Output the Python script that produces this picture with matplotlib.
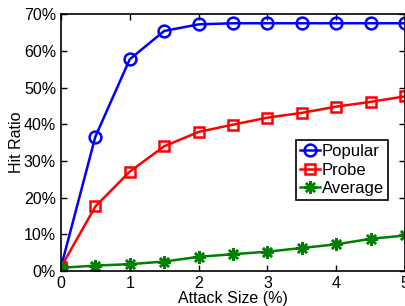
import numpy as np
import matplotlib.pyplot as plt
from matplotlib.ticker import FuncFormatter

plt.rcParams['font.family'] = ['Liberation Sans', 'DejaVu Sans']

attack_size = [0, 0.5, 1, 1.5, 2, 2.5, 3, 3.5, 4, 4.5, 5]
popular = [1.0, 36.6, 57.7, 65.4, 67.2, 67.5, 67.5, 67.5, 67.5, 67.5, 67.5]
probe = [1.0, 17.6, 27.1, 34.0, 37.9, 39.9, 41.8, 43.1, 44.8, 46.1, 47.6]
average = [0.9, 1.5, 1.9, 2.6, 3.9, 4.6, 5.3, 6.3, 7.3, 8.8, 9.7]

fig = plt.figure(figsize=(4.06, 3.06), dpi=100)
ax = fig.add_axes([0.150, 0.114, 0.848, 0.840])

ax.plot(attack_size, popular, '-o', color='blue', lw=1.8, ms=8.5, mfc='none', mew=1.8, label='Popular')
ax.plot(attack_size, probe, '-s', color='red', lw=1.8, ms=7.5, mfc='none', mew=1.8, label='Probe')
ax.plot(attack_size, average, '-', marker=(8, 2, 0), color=(0, 0.5, 0), lw=1.8, ms=9, mew=1.8, label='Average')

ax.set_xlim(0, 5)
ax.set_ylim(0, 70)
ax.set_xticks(range(6))
ax.set_yticks(range(0, 71, 10))
ax.yaxis.set_major_formatter(FuncFormatter(lambda v, p: '%d%%' % v))
ax.tick_params(direction='in', top=True, right=True, labelsize=11.5, length=4, width=1)
for s in ax.spines.values():
    s.set_linewidth(1.2)

ax.set_xlabel('Attack Size (%)', fontsize=11.5, labelpad=0)
ax.set_ylabel('Hit Ratio', fontsize=11.5, labelpad=0)

leg = ax.legend(loc='upper right', bbox_to_anchor=(0.951, 0.51), fontsize=12,
                fancybox=False, framealpha=1, edgecolor='black',
                handlelength=1.2, handletextpad=0.1, borderpad=0.25,
                labelspacing=0.2, borderaxespad=0)
leg.get_frame().set_linewidth(1.2)

fig.savefig('out.png', dpi=100)
